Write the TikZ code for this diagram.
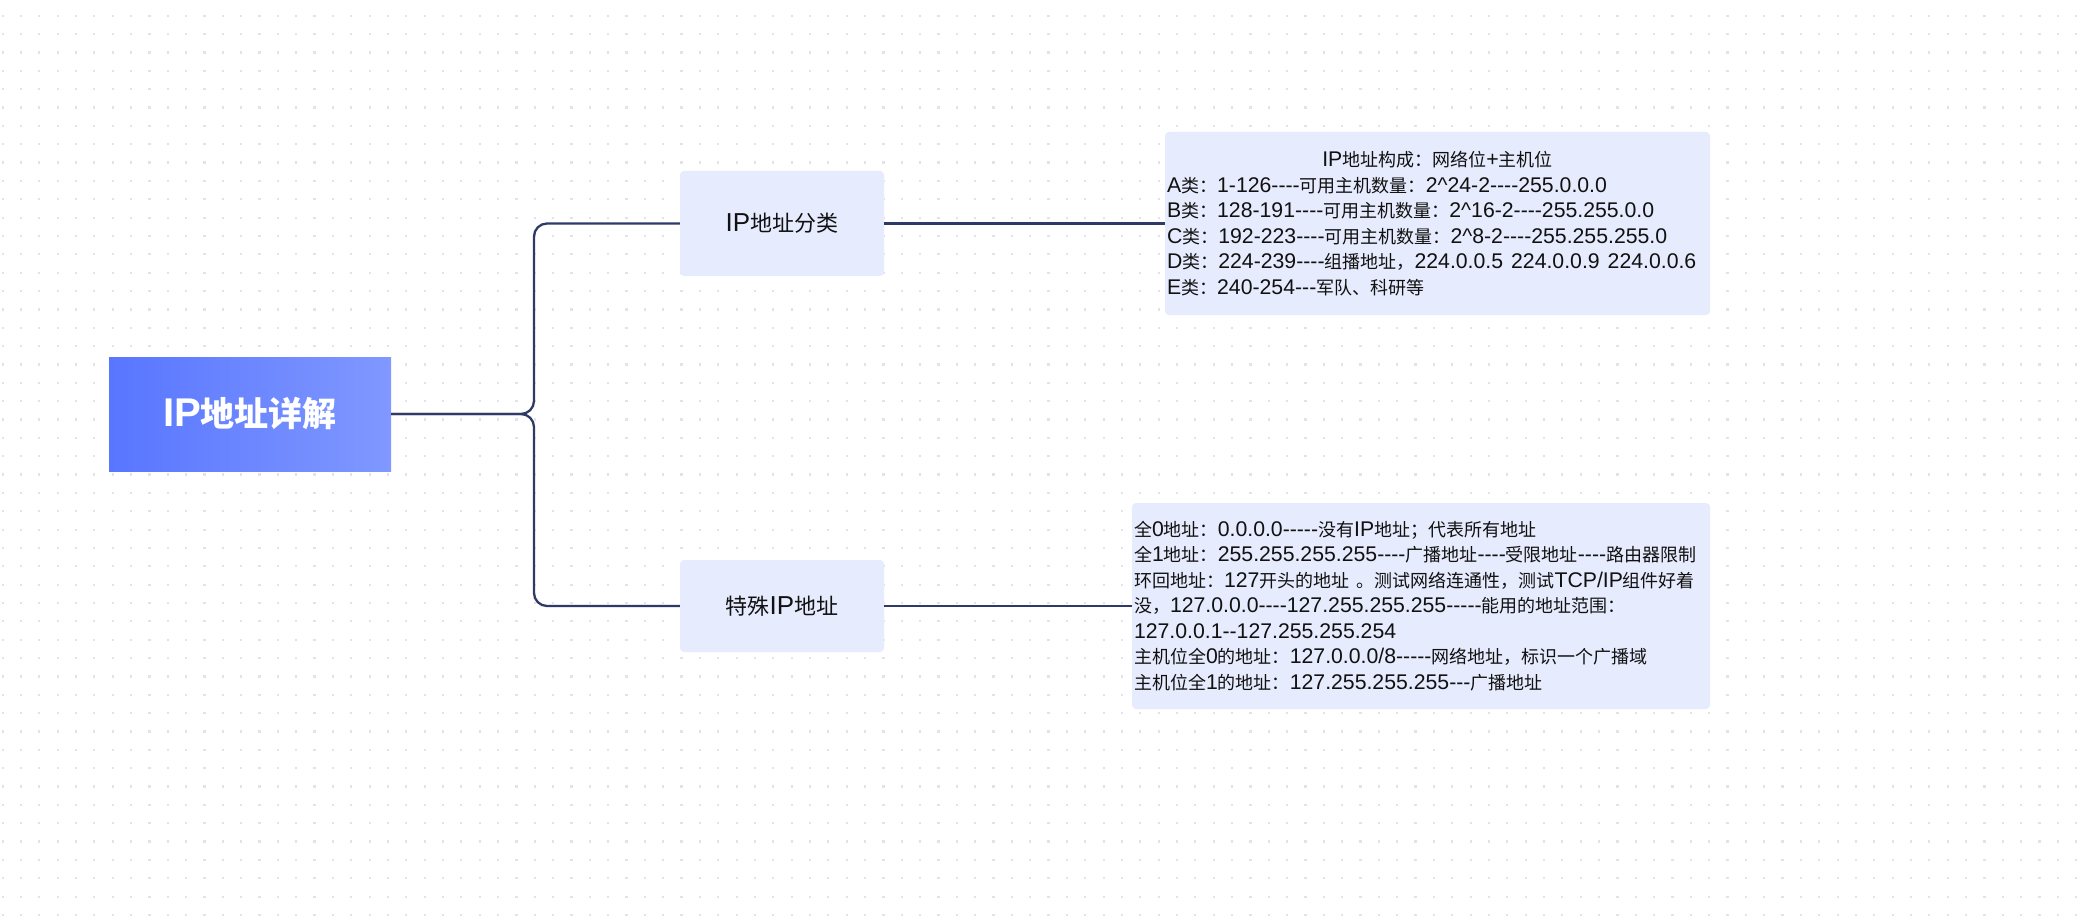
\documentclass[tikz,border=0pt]{standalone}
\usepackage{fontspec}
\newfontfamily\cjk{Noto Sans CJK SC}
\newfontfamily\lat{Liberation Sans}[Scale=1.18]
\XeTeXinterchartokenstate=1
\newXeTeXintercharclass\mycjk
\newcount\cc
\def\setcls#1#2{\cc=#1\relax\loop\XeTeXcharclass\cc=\mycjk\relax\ifnum\cc<#2\relax\advance\cc by 1\repeat}
\setcls{"3000}{"303F}
\setcls{"4E00}{"9FFF}
\setcls{"FF00}{"FFEF}
\XeTeXinterchartoks 0 \mycjk = {\cjk}
\XeTeXinterchartoks 4095 \mycjk = {\cjk}
\XeTeXinterchartoks \mycjk 0 = {\lat}
\XeTeXinterchartoks 4095 0 = {\lat}
\definecolor{nodefill}{HTML}{E6EBFD}
\definecolor{conncol}{HTML}{2F3A66}
\definecolor{dotcol}{HTML}{E2E3EA}
\definecolor{rootL}{HTML}{5876FF}
\definecolor{rootR}{HTML}{8098FF}
\definecolor{txt}{HTML}{111111}
\begin{document}
\begin{tikzpicture}[x=1pt,y=-1pt,
  rootbox/.style={left color=rootL, right color=rootR, draw=none, minimum width=282pt, minimum height=114pt, inner sep=0pt, text=white, font=\lat\bfseries\fontsize{34}{40}\selectfont},
  subbox/.style={fill=nodefill, rounded corners=4pt, minimum width=204pt, inner sep=0pt, text=txt, font=\lat\fontsize{22}{26}\selectfont},
  infobox/.style={fill=nodefill, rounded corners=4pt, inner xsep=2pt, inner ysep=0pt, align=left, text=txt, font=\lat\fontsize{18}{25.5}\selectfont},
  conn/.style={draw=conncol, line width=2.3pt, rounded corners=13pt}
]
\useasboundingbox[fill=white] (0,0) rectangle (2090,917);
% dotted grid
\foreach \i in {0,...,113}{
  \foreach \j in {0,...,49}{
    \fill[dotcol] (1.5+\i*18.35,14.7+\j*18.35) rectangle ++(2.2,2.2);
  }
}
% nodes
\node[rootbox] (root) at (250,414) {IP地址详解};
\node[subbox, minimum height=105pt] (n1) at (782,223.5) {IP地址分类};
\node[subbox, minimum height=92pt] (n2) at (782,606) {特殊IP地址};
\node[infobox, text width=541pt, minimum height=183pt] (b1) at (1437.5,223.5) {%
\makebox[541pt][c]{IP地址构成：网络位+主机位}\\
A类：1-126----可用主机数量：2\textasciicircum24-2----255.0.0.0\\
B类：128-191----可用主机数量：2\textasciicircum16-2----255.255.0.0\\
C类：192-223----可用主机数量：2\textasciicircum8-2----255.255.255.0\\
\makebox[541pt][l]{D类：224-239----组播地址，224.0.0.5\hspace{8pt}224.0.0.9\hspace{8pt}224.0.0.6}\\
E类：240-254---军队、科研等};
\node[infobox, text width=574pt, minimum height=206pt] (b2) at (1421,606) {%
全0地址：0.0.0.0-----没有IP地址；代表所有地址\\
\makebox[574pt][l]{全1地址：255.255.255.255----广播地址----受限地址----路由器限制}\\
环回地址：127开头的地址 。测试网络连通性，测试TCP/IP组件好着\\
没，127.0.0.0----127.255.255.255-----能用的地址范围：\\
127.0.0.1--127.255.255.254\\
主机位全0的地址：127.0.0.0/8-----网络地址，标识一个广播域\\
主机位全1的地址：127.255.255.255---广播地址};
% connectors
\coordinate (j) at (534,414);
\draw[conn] (root.east) -- (j) |- (n1.west);
\draw[conn] (root.east) -- (j) |- (n2.west);
\draw[conn] (n1.east) -- (b1.west);
\draw[conn] (n2.east) -- (b2.west);
\end{tikzpicture}
\end{document}
